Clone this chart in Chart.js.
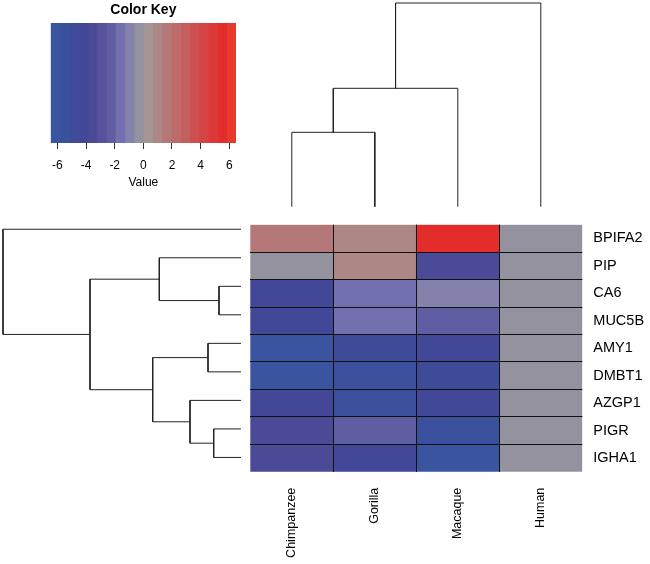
<!DOCTYPE html>
<html>
<head>
<meta charset="utf-8">
<script src="https://cdn.jsdelivr.net/npm/chart.js@4.4.1/dist/chart.umd.min.js"></script>
<style>
  html, body { margin: 0; padding: 0; background: #fff; }
  #wrap { position: relative; width: 650px; height: 564px; overflow: hidden; }
  canvas { position: absolute; }
</style>
</head>
<body>
<div id="wrap">
  <canvas id="chart-key" width="286" height="195" style="left:0;top:0"></canvas>
  <canvas id="chart-coltree" width="360" height="215" style="left:240px;top:0"></canvas>
  <canvas id="chart-rowtree" width="250" height="280" style="left:0;top:205px"></canvas>
  <canvas id="chart-heat" width="410" height="359" style="left:240px;top:205px"></canvas>
</div>
<script>
const genes = ['BPIFA2', 'PIP', 'CA6', 'MUC5B', 'AMY1', 'DMBT1', 'AZGP1', 'PIGR', 'IGHA1'];
const species = ['Chimpanzee', 'Gorilla', 'Macaque', 'Human'];

// valores por especie, en el orden de genes
const valChimpanzee = [1.7, 0, -4.2, -4.3, -6.1, -5.9, -4.1, -3.5, -3.6];
const valGorilla    = [1.1, 1.0, -1.6, -1.5, -4.8, -5.6, -5.5, -2.3, -4.3];
const valMacaque    = [5.6, -3.6, -0.9, -2.2, -4.0, -4.7, -4.2, -5.6, -6.0];
const valHuman      = [0, 0, 0, 0, 0, 0, 0, 0, 0];

// clave de color
const keyBreaks = [-6.47, -5.82, -5.18, -4.53, -3.88, -3.24, -2.59, -1.94, -1.29, -0.65, 0,
                   0.65, 1.29, 1.94, 2.59, 3.24, 3.88, 4.53, 5.18, 5.82, 6.47];
const keyColors = ['#3a54a0', '#3b509d', '#3d4b99', '#424897', '#4a4a96', '#57529b', '#605ea3',
                   '#7370b0', '#8581ad', '#93929e', '#a59595', '#ad8686', '#b57878', '#bd6b6b',
                   '#c55e5e', '#cc5050', '#d44444', '#dc3838', '#e22d2b', '#e63a2c'];

// dendrogramas: [a, b, altura], negativo = hoja, positivo = union anterior
const rowMerges = [[-3, -4, 22], [-8, -9, 27.3], [-5, -6, 33], [-7, 2, 51],
                   [-2, 1, 81.7], [3, 4, 88.3], [5, 6, 151], [-1, 7, 238]];
const colMerges = [[-1, -2, 74.4], [-3, 1, 118.4], [-4, 2, 203.7]];

const FONT = "'Liberation Sans', Arial, sans-serif";
const LINE = '#222';

const colorFor = (v) => {
    for (let i = 0; i < keyColors.length; i++) {
        if (v <= keyBreaks[i + 1]) return keyColors[i];
    }
    return keyColors[keyColors.length - 1];
};

const dendroLines = (merges, swap) => {
    const pos = [];
    const hgt = [];
    const node = id => id < 0 ? { p: -id - 1, h: 0 } : { p: pos[id - 1], h: hgt[id - 1] };
    return merges.map(([a, b, h]) => {
        const A = node(a), B = node(b);
        pos.push((A.p + B.p) / 2);
        hgt.push(h);
        const pts = [[A.p, A.h], [A.p, h], [B.p, h], [B.p, B.h]];
        return pts.map(([p, v]) => swap ? { x: v, y: p } : { x: p, y: v });
    });
};

const lineDataset = (pts) => ({
    data: pts, showLine: true, pointRadius: 0, borderColor: LINE, borderWidth: 1,
    fill: false, clip: false, tension: 0
});

const noPlugins = { legend: { display: false }, tooltip: { enabled: false } };
const keyMin = keyBreaks[0];
const keyMax = keyBreaks[keyBreaks.length - 1];

// Color Key
new Chart(document.getElementById('chart-key'), {
    type: 'bar',
    data: {
        labels: ['key'],
        datasets: keyColors.map((c, i) => ({
            xAxisID: 'xk',
            data: [[keyBreaks[i], keyBreaks[i + 1]]],
            backgroundColor: c, borderWidth: 0, grouped: false,
            barPercentage: 1, categoryPercentage: 1
        }))
    },
    options: {
        indexAxis: 'y', responsive: false, animation: false,
        layout: { padding: { left: 50.7, right: 50, top: 0, bottom: 0 } },
        plugins: {
            ...noPlugins,
            title: { display: true, text: 'Color Key', color: '#000',
                     font: { family: FONT, size: 14, weight: 'bold' }, padding: { top: 2, bottom: 4.2 } }
        },
        scales: {
            xk: { type: 'linear', display: false, min: keyMin, max: keyMax },
            x: {
                type: 'linear', min: keyMin, max: keyMax,
                grid: { drawOnChartArea: false, drawTicks: true, tickLength: 6, color: '#333' },
                border: { display: false },
                ticks: { stepSize: 2, includeBounds: false, padding: 9, color: '#000',
                         font: { family: FONT, size: 12 } },
                title: { display: true, text: 'Value', color: '#000',
                         font: { family: FONT, size: 12 }, padding: { top: 0, bottom: 5 } },
                afterFit: s => { s.height = 52; }
            },
            y: { display: false }
        }
    }
});

// dendrograma de columnas
new Chart(document.getElementById('chart-coltree'), {
    type: 'scatter',
    data: { datasets: dendroLines(colMerges, false).map(lineDataset) },
    options: {
        responsive: false, animation: false,
        layout: { padding: { left: 10.3, right: 17.7, top: 3, bottom: 8.3 } },
        plugins: noPlugins,
        scales: {
            x: { type: 'linear', display: false, min: -0.5, max: species.length - 0.5 },
            y: { type: 'linear', display: false, min: 0, max: 203.7 }
        }
    }
});

// dendrograma de filas
new Chart(document.getElementById('chart-rowtree'), {
    type: 'scatter',
    data: { datasets: dendroLines(rowMerges, true).map(lineDataset) },
    options: {
        responsive: false, animation: false,
        layout: { padding: { left: 3, right: 9, top: 10, bottom: 13.3 } },
        plugins: noPlugins,
        scales: {
            x: { type: 'linear', display: false, min: 0, max: 238, reverse: true },
            y: { type: 'linear', display: false, min: -0.5, max: genes.length - 0.5, reverse: true }
        }
    }
});

// mapa de calor
const valueColumns = [valChimpanzee, valGorilla, valMacaque, valHuman];
new Chart(document.getElementById('chart-heat'), {
    type: 'bar',
    data: {
        labels: species,
        datasets: genes.map((g, r) => ({
            label: g,
            yAxisID: 'y',
            data: species.map(() => 1),
            backgroundColor: valueColumns.map(col => colorFor(col[r])),
            borderWidth: 0, barPercentage: 1, categoryPercentage: 1
        }))
    },
    options: {
        responsive: false, animation: false,
        layout: { padding: { left: 10.3, top: 10, right: 0, bottom: 0 } },
        plugins: noPlugins,
        scales: {
            x: {
                type: 'category', stacked: true, position: 'bottom',
                grid: { offset: true, drawTicks: false, z: 1, lineWidth: 1,
                        color: ctx => (ctx.index > 0 && ctx.index < species.length) ? '#111' : 'rgba(0,0,0,0)' },
                border: { display: false },
                ticks: { minRotation: 90, maxRotation: 90, autoSkip: false, padding: 16, color: '#000',
                         font: { family: FONT, size: 12.5 } },
                afterFit: s => { s.height = 92.3; }
            },
            y: {
                type: 'linear', stacked: true, position: 'right', min: 0, max: genes.length, reverse: true,
                grid: { display: false, drawTicks: false }, border: { display: false },
                afterBuildTicks: s => { s.ticks = genes.map((g, i) => ({ value: i + 0.5 })); },
                ticks: { autoSkip: false, padding: 11, color: '#000', font: { family: FONT, size: 14.5 },
                         callback: v => genes[Math.floor(v)] },
                afterFit: s => { s.width = 67.7; }
            },
            yg: {
                type: 'linear', position: 'left', min: 0, max: genes.length, reverse: true,
                ticks: { display: false },
                grid: { drawTicks: false, z: 1, lineWidth: 1,
                        color: ctx => (ctx.tick && ctx.tick.value > 0 && ctx.tick.value < genes.length) ? '#111' : 'rgba(0,0,0,0)' },
                border: { display: false },
                afterBuildTicks: s => { s.ticks = genes.slice(1).map((g, i) => ({ value: i + 1 })); },
                afterFit: s => { s.width = 0; }
            }
        }
    }
});
</script>
</body>
</html>
